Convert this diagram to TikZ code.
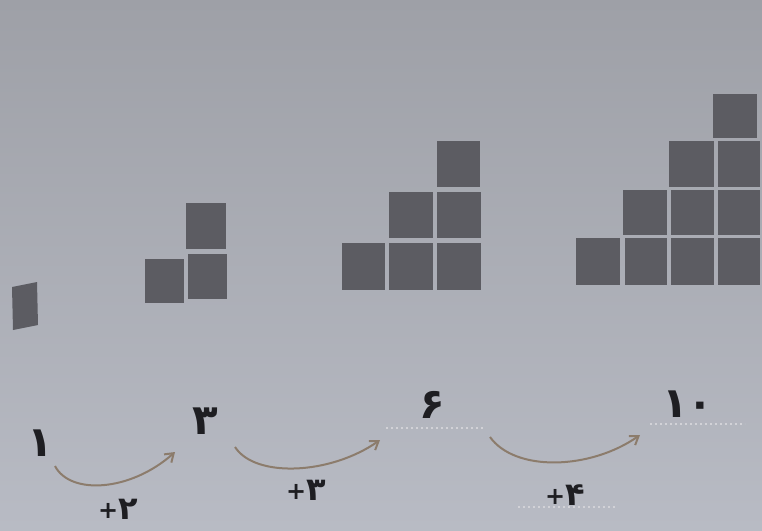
\documentclass[tikz,border=0pt]{standalone}
\usepackage{fontspec}
\newfontfamily\arabicfont[Script=Arabic]{DejaVu Sans}
\usetikzlibrary{arrows.meta}
\definecolor{bgtop}{RGB}{158,160,167}
\definecolor{bgbot}{RGB}{184,187,196}
\definecolor{sq}{RGB}{92,92,98}
\definecolor{arc}{RGB}{140,124,108}
\definecolor{dots}{RGB}{210,210,215}
\definecolor{ink}{RGB}{30,30,34}
\newcommand{\plussign}{\hbox{\fontsize{24}{24}\selectfont\raisebox{1pt}{+}}}
\tikzset{
  cell/.style={fill=sq, draw=none},
  num/.style={font=\arabicfont\bfseries\fontsize{42}{42}\selectfont, text=ink, inner sep=0pt},
  inc/.style={font=\arabicfont\bfseries\fontsize{32}{32}\selectfont, text=ink, inner sep=0pt},
  jump/.style={draw=arc, line width=2pt, -{Straight Barb[length=8pt,width=11pt]}},
  guide/.style={draw=dots, line width=1.8pt, dash pattern=on 2pt off 3pt}
}
\begin{document}
\begin{tikzpicture}[x=1pt,y=-1pt]
\shade[top color=bgtop, bottom color=bgbot] (0,0) rectangle (762,530);
\useasboundingbox (0,0) rectangle (762,530);
% group 1
\fill[cell] (12,287) -- (37,282) -- (38,325) -- (13,330) -- cycle;
% group 2
\fill[cell] (145,259) rectangle (184,303);
\fill[cell] (188,254) rectangle (227,299);
\fill[cell] (186,203) rectangle (226,249);
% group 3
\fill[cell] (342,243) rectangle (385,290);
\fill[cell] (389,243) rectangle (433,290);
\fill[cell] (437,243) rectangle (481,290);
\fill[cell] (389,192) rectangle (433,238);
\fill[cell] (437,192) rectangle (481,238);
\fill[cell] (437,141) rectangle (480,187);
% group 4
\fill[cell] (576,238) rectangle (620,285);
\fill[cell] (625,238) rectangle (667,285);
\fill[cell] (671,238) rectangle (714,285);
\fill[cell] (718,238) rectangle (760,285);
\fill[cell] (623,190) rectangle (667,235);
\fill[cell] (671,190) rectangle (714,235);
\fill[cell] (718,190) rectangle (760,235);
\fill[cell] (669,141) rectangle (714,187);
\fill[cell] (718,141) rectangle (760,187);
\fill[cell] (713,94) rectangle (757,138);
% dotted guides
\coordinate (g1a) at (386,428); \coordinate (g1b) at (485,428);
\coordinate (g2a) at (650,424); \coordinate (g2b) at (745,424);
\coordinate (g3a) at (518,507); \coordinate (g3b) at (615,507);
\draw[guide] (g1a) -- (g1b);
\draw[guide] (g2a) -- (g2b);
\draw[guide] (g3a) -- (g3b);
% numbers
\node[num] (n1) at (40,443) {۱};
\node[num] (n3) at (205,421) {۳};
\node[num] (n6) at (432,405) {۶};
\node[num] (n10) at (688,404) {۱۰};
\node[inc] (p2) at (118,509) {\plussign\hbox{۲}};
\node[inc] (p3) at (306,490) {\plussign\hbox{۳}};
\node[inc] (p4) at (565,495) {\plussign\hbox{۴}};
% arcs
\coordinate (a1s) at (55,466); \coordinate (a1e) at (175,452);
\coordinate (a2s) at (235,447); \coordinate (a2e) at (380,440);
\coordinate (a3s) at (490,437); \coordinate (a3e) at (640,435);
\draw[jump] (a1s) .. controls (70,495) and (130,492) .. (a1e);
\draw[jump] (a2s) .. controls (255,478) and (330,475) .. (a2e);
\draw[jump] (a3s) .. controls (515,472) and (590,470) .. (a3e);
\end{tikzpicture}
\end{document}
